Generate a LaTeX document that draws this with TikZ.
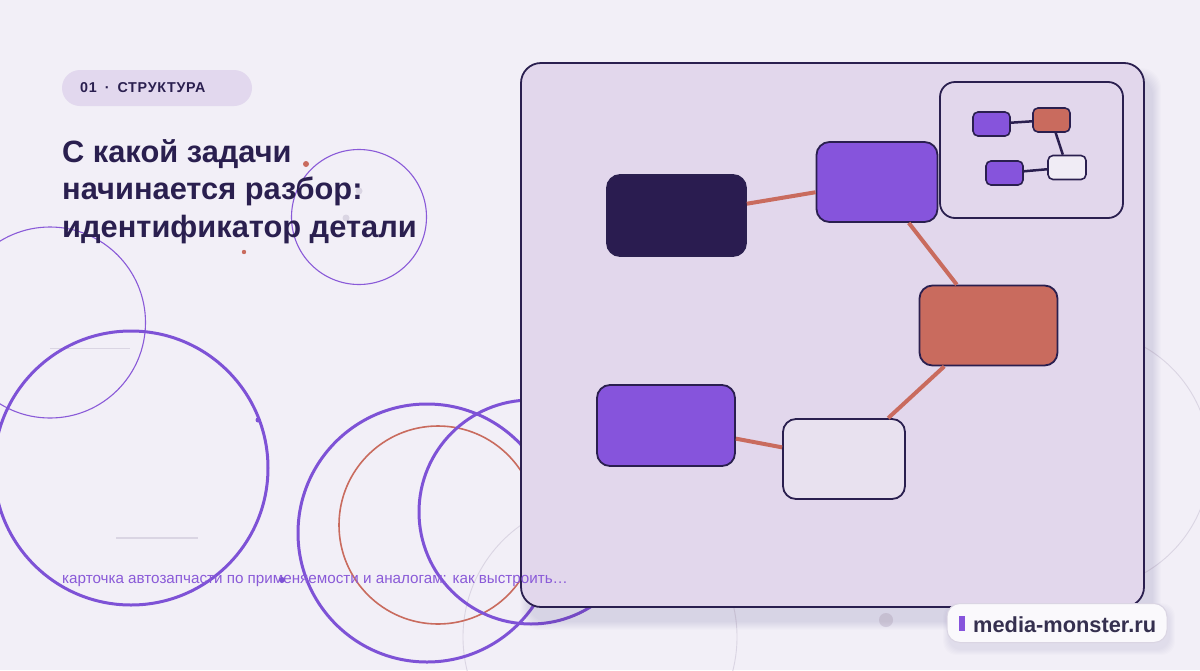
\documentclass[tikz,border=0pt]{standalone}
\usepackage{fontspec}
\setmainfont{Liberation Sans}
\definecolor{bgc}{HTML}{F2EFF7}
\definecolor{ink}{HTML}{2A1F4F}
\definecolor{navy}{HTML}{2A1C50}
\definecolor{violet}{HTML}{8654DC}
\definecolor{ringv}{HTML}{7E52D6}
\definecolor{coral}{HTML}{C96B5E}
\definecolor{panelc}{HTML}{E2D7EC}
\definecolor{pillc}{HTML}{E2D8EE}
\definecolor{paleb}{HTML}{E8E1EF}
\definecolor{minipale}{HTML}{F0ECF5}
\definecolor{faint}{HTML}{DAD5E3}
\definecolor{capc}{HTML}{8A5AD8}
\definecolor{logoink}{HTML}{35304F}
\begin{document}
\begin{tikzpicture}[x=1pt,y=-1pt,
  box/.style={draw=ink, line width=1.8pt, rounded corners=13pt, inner sep=0pt},
  minibox/.style={draw=ink, line width=1.6pt, rounded corners=5pt, inner sep=0pt, minimum width=37pt, minimum height=24pt},
  edge/.style={draw=coral, line width=4pt},
  miniedge/.style={draw=ink, line width=2.5pt},
  ring/.style={draw=ringv, line width=3pt},
  thinring/.style={draw=capc, line width=1.1pt},
  ghostring/.style={draw=faint, line width=0.9pt},
  titlefont/.style={font=\bfseries\fontsize{30.8}{36}\selectfont},
]
\useasboundingbox (0,0) rectangle (1200,670);
\fill[bgc] (0,0) rectangle (1200,670);

% faint background lines
\draw[faint, line width=1pt] (50,348) -- (130,348);
\draw[faint, line width=2pt] (116,538) -- (198,538);

% decorative rings
\draw[ghostring] (600,637) circle[radius=137pt];
\draw[ghostring] (1080,460) circle[radius=130pt];
\draw[thinring] (50,322.5) circle[radius=95.5pt];
\draw[thinring] (359,217) circle[radius=67.5pt];
\draw[ring] (131,468) circle[radius=137pt];
\draw[ring] (427,533) circle[radius=129pt];
\draw[coral, line width=1.6pt] (438,525) circle[radius=99pt];
\draw[ring] (531,512) circle[radius=112pt];

% dots
\fill[coral] (306,164) circle[radius=3pt];
\fill[coral] (244,252) circle[radius=2.2pt];
\fill[faint] (359,191) circle[radius=3.5pt];
\fill[faint] (346,218) circle[radius=3.5pt];
\fill[ringv] (258,420) circle[radius=2.5pt];
\fill[faint] (886,620) circle[radius=7pt];

% tag pill
\node[fill=pillc, rounded corners=18pt, minimum width=190pt, minimum height=36pt, inner sep=0pt] (tag) at (157,88) {};
\node[anchor=base west, inner sep=0pt, text=ink, font=\bfseries\fontsize{14.3}{16}\selectfont\addfontfeature{LetterSpace=5}] (tagtext) at (80,92) {01\hspace{8pt}·\hspace{8pt}СТРУКТУРА};

% title
\node[anchor=base west, inner sep=0pt, text=ink, titlefont] (t1) at (62,162) {С какой задачи};
\node[anchor=base west, inner sep=0pt, text=ink, titlefont] (t2) at (62,199.5) {начинается разбор:};
\node[anchor=base west, inner sep=0pt, text=ink, titlefont] (t3) at (62,237) {идентификатор детали};

% panel shadow
\foreach \i in {1,2,...,9}{
  \fill[ink, opacity=0.013, rounded corners=20pt] (521-\i+8,63-\i+14) rectangle (1144+\i+8,607+\i+14);
}
\node[draw=ink, fill=panelc, line width=1.8pt, rounded corners=20pt, minimum width=623pt, minimum height=544pt, inner sep=0pt] (panel) at (832.5,335) {};

% caption (on top of panel)
\node[anchor=base west, inner sep=0pt, text=capc, font=\fontsize{15.2}{18}\selectfont] (cap) at (62,583) {карточка автозапчасти по применяемости и аналогам: как выстроить…};
\fill[ringv] (282,580) circle[radius=3pt];

% main graph nodes
\node[box, fill=navy, minimum width=139pt, minimum height=81pt] (dark) at (676.5,215.5) {};
\node[box, fill=violet, minimum width=121pt, minimum height=80pt] (ptop) at (877,182) {};
\node[box, fill=coral, minimum width=138pt, minimum height=80pt] (cbox) at (988.5,325.5) {};
\node[box, fill=violet, minimum width=138pt, minimum height=81pt] (pbl) at (666,425.5) {};
\node[box, fill=paleb, minimum width=122pt, minimum height=80pt] (pale) at (844,459) {};

\draw[edge] (dark) -- (ptop);
\draw[edge] (ptop) -- (cbox);
\draw[edge] (cbox) -- (pale);
\draw[edge] (pbl) -- (pale);

% minimap
\node[draw=ink, fill=panelc, line width=1.8pt, rounded corners=15pt, minimum width=183pt, minimum height=136pt, inner sep=0pt] (mapbox) at (1031.5,150) {};
\node[minibox, fill=violet] (m1) at (991.5,124) {};
\node[minibox, fill=coral] (m2) at (1051.5,120) {};
\node[minibox, fill=violet] (m3) at (1004.5,173) {};
\node[minibox, fill=minipale, minimum width=38pt] (m4) at (1067,167.5) {};
\draw[miniedge] (m1) -- (m2);
\draw[miniedge] (m2) -- (m4);
\draw[miniedge] (m3) -- (m4);

% logo
\foreach \i in {1,2,...,6}{
  \fill[ink, opacity=0.013, rounded corners=13pt] (947-\i+2,603-\i+6) rectangle (1167+\i+2,643+\i+6);
}
\node[fill=white!65!bgc, draw=faint, line width=1pt, rounded corners=13pt, minimum width=220pt, minimum height=39pt, inner sep=0pt] (logo) at (1057,623) {};
\node[fill=violet, minimum width=6pt, minimum height=15pt, inner sep=0pt] (bar) at (962,623.5) {};
\node[anchor=base west, inner sep=0pt, text=logoink, font=\bfseries\fontsize{21.8}{24}\selectfont] (logotext) at (973,632.5) {media-monster.ru};
\end{tikzpicture}
\end{document}
